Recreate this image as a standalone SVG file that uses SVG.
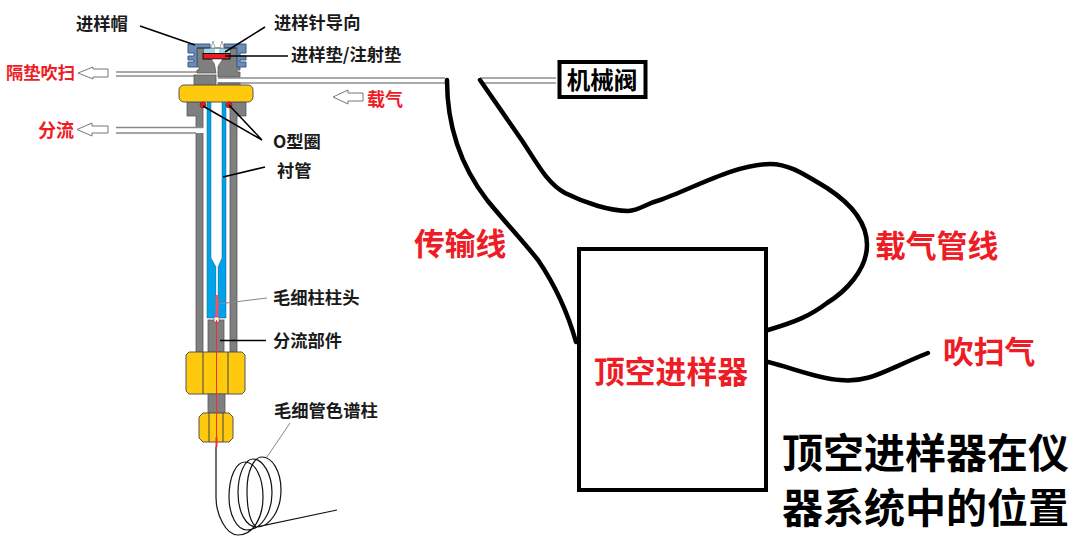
<svg xmlns="http://www.w3.org/2000/svg" width="1080" height="544" viewBox="0 0 1080 544">
<style>
text{font-family:"Noto Sans CJK SC","Liberation Sans",sans-serif;font-weight:700}
.k{font-size:17.300px;fill:#1a1a1a}
.r{font-size:17.300px;fill:#ee1c25}
.big{font-size:30.800px;fill:#ee1c25}
.title{font-size:41px;fill:#000}
.g{fill:#7f7f7f;stroke:#595959;stroke-width:.8}
.y{fill:#ffc90e;stroke:#555;stroke-width:1}
.b{fill:#00a2e8;stroke:#1a5f86;stroke-width:.5}
.bl{fill:#6b8cba;stroke:#3d5a80;stroke-width:1}
.lead{fill:none;stroke:#000;stroke-width:1.500}
.thin{fill:none;stroke:#888;stroke-width:1}
.cable{fill:none;stroke:#000;stroke-width:4.500;stroke-linecap:round;stroke-linejoin:round}
.tube{fill:none;stroke:#555;stroke-width:1}
.arr{fill:#fff;stroke:#777;stroke-width:1}
.coil{fill:none;stroke:#111;stroke-width:1.200}
</style>
<rect width="1080" height="544" fill="#fff"/>
<g id="injector">
<!-- body -->
<path class="g" d="M187 102H203V352H196V116H187Z"/>
<path class="g" d="M246 102H230V352H237V116H246Z"/>
<rect x="190" y="128" width="14" height="5" fill="#fff"/>
<!-- liner -->
<path class="b" d="M207 102H211V258L216 267V300H218V267L222 258V102H226V318H207Z"/>
<rect x="216" y="267" width="2" height="30" fill="#e6e6e6"/>
<rect x="215.500" y="295" width="3" height="24" fill="#ee5566"/>
<rect class="g" x="208" y="320" width="16" height="32"/>
<rect x="214" y="317" width="5" height="5" fill="#fff" stroke="#c33" stroke-width=".7"/>
<!-- head -->
<path class="tube" d="M116 72H198M116 76H198M218 78H445M218 83H445"/>
<rect class="g" x="194" y="75" width="22" height="10"/>
<rect class="g" x="218" y="83" width="22" height="3"/>
<path class="g" d="M197 48H204V59H212L214 62L216 73H197V70H199V67H197Z"/>
<path class="g" d="M237 48H230V59H222L220 62L218 66V77H240V72H237V70H240V67H237Z"/>
<!-- septum nut -->
<path class="bl" d="M188 44H210V48H197V67H188V62H194V60H188V56H194V53H188V50H188Z"/>
<path class="bl" d="M246 44H224V48H237V67H246V62H240V60H246V56H240V53H246V50H246Z"/>
<rect x="204" y="49" width="11" height="4.500" fill="#99d9ea"/>
<rect x="219" y="49" width="11" height="4.500" fill="#99d9ea"/>
<path d="M197 48H237" stroke="#333" stroke-width="1" fill="none"/>
<rect x="203" y="53.500" width="27" height="5.500" fill="#ee1c25" stroke="#111" stroke-width="1"/>
<path d="M211 48L213 41L215 48ZM220 48L222 41L224 48Z" fill="#fff" stroke="#888" stroke-width=".7"/>
<path d="M212 59.500H222L217 67Z" fill="#fff"/>
<!-- yellow nut -->
<rect class="y" x="179" y="85" width="74" height="17" rx="5"/>
<circle cx="203" cy="105" r="3" fill="#e81c24" stroke="#7f1d1d" stroke-width=".7"/>
<circle cx="229" cy="105" r="3" fill="#e81c24" stroke="#7f1d1d" stroke-width=".7"/>
<!-- split side tube -->
<path d="M116 127.500H203M116 133H196" stroke="#888" fill="none" stroke-width="1.500"/>
<!-- lower nuts -->
<path class="y" d="M189 352H242L245 355V391L242 394H189L186 391V355Z"/>
<path d="M203 352V394M228 352V394" stroke="#444" fill="none"/>
<rect class="g" x="208" y="394" width="17" height="19"/>
<path class="y" d="M203 413H229L233 417V438L229 442H203L199 438V417Z"/>
<path d="M209 413V442M223 413V442" stroke="#444" fill="none"/>
<path d="M216.500 320V437" stroke="#f03030" stroke-width="1" fill="none"/>
<path d="M216.500 437V447" stroke="#f03030" stroke-width="2" fill="none"/>
<path class="coil" d="M216 447V497C216 515 226 535 238 535C253 535 263 518 263 497C263 477 255 462 245 462C236 462 229 477 229 497C229 515 237 530 247 530C261 530 272 513 272 493C272 474 263 459 253 459C245 459 238 474 238 493C238 512 246 527 257 527C270 527 281 510 281 490C281 471 272 457 262 457C254 457 247 471 247 490C247 510 250 522 256 527L337 510"/>
</g>
<g id="arrows">
<path class="arr" d="M78 73L93 67V69H108V77H93V79Z"/>
<path class="arr" d="M77 129.500L92 123V126H108V133H92V136Z"/>
<path class="arr" d="M333 97L348 90V93H363V101H348V104Z"/>
</g>
<g id="valve"><rect x="559.500" y="62" width="86" height="35" fill="#fff" stroke="#000" stroke-width="4"/><text x="602" y="89" text-anchor="middle" style="font-size:23.500px;fill:#000">机械阀</text></g>
<g id="sampler"><rect x="579" y="249" width="187" height="241" fill="#fff" stroke="#000" stroke-width="4"/><text x="671" y="383" class="big" text-anchor="middle">顶空进样器</text></g>
<g id="connectors">
<path class="tube" d="M480 78H556M480 83H556"/>
<path class="cable" d="M447 80C447 125 460 165 487 200C505 222 522 240 538 260C555 285 567 310 576 342"/>
<path class="cable" d="M480 80L523 142C538 165 548 184 565 193C585 203 610 211 628 211C640 210 645 204 660 200C690 190 735 164 770 164C790 164 805 175 827 188C850 203 867 222 867 245C867 270 845 292 827 303C810 316 795 322 768 330"/>
<path class="cable" d="M768 362C790 367 815 378 840 380C870 383 885 370 928 353"/>
<path class="lead" d="M140 26L195 45"/>
<path class="lead" d="M265 27L225 52"/>
<path class="lead" d="M225 56H288"/>
<path class="lead" d="M203 106L262 140L229 105"/>
<path class="lead" d="M223 177L265 167"/>
<path class="thin" d="M218 304L267 298"/>
<path class="lead" d="M220 340.500H266"/>
<path class="thin" d="M267 457L290 423"/>
</g>
<g id="labels">
<text class="k" x="76" y="30">进样帽</text>
<text class="k" x="274" y="29">进样针导向</text>
<text class="k" x="291" y="61">进样垫/注射垫</text>
<text class="r" x="6" y="79">隔垫吹扫</text>
<text class="r" x="38" y="137" style="font-size:18px">分流</text>
<text class="r" x="367" y="106" style="font-size:18px">载气</text>
<text class="k" x="273" y="148">O型圈</text>
<text class="k" x="277" y="177">衬管</text>
<text class="k" x="273" y="304">毛细柱柱头</text>
<text class="k" x="273" y="347">分流部件</text>
<text class="k" x="274" y="417">毛细管色谱柱</text>
<text class="big" x="414" y="255">传输线</text>
<text class="big" x="875" y="257">载气管线</text>
<text class="big" x="943" y="363">吹扫气</text>
<text class="title" x="782" y="468">顶空进样器在仪</text>
<text class="title" x="782" y="523">器系统中的位置</text>
</g>
</svg>
